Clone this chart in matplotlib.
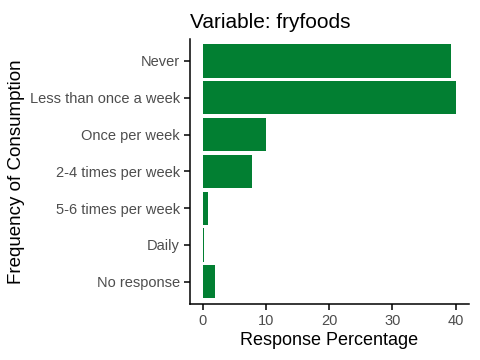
import numpy as np
import matplotlib.pyplot as plt

plt.rcParams['font.family'] = ['Liberation Sans', 'DejaVu Sans']

categories = ['Never', 'Less than once a week', 'Once per week', '2-4 times per week',
              '5-6 times per week', 'Daily', 'No response']
values = [39.3, 40.1, 10.0, 7.85, 0.8, 0.15, 1.9]

fig = plt.figure(figsize=(4.8, 3.6), dpi=100)
ax = fig.add_axes([0.396, 0.156, 0.581, 0.736])

pos = np.arange(len(categories))[::-1]
ax.barh(pos, values, height=0.9, color='#027f32', linewidth=0)

ax.set_yticks(pos)
ax.set_yticklabels(categories)
ax.set_ylim(-0.6, len(categories) - 0.4)
xmax = max(values)
ax.set_xlim(-0.05 * xmax, xmax * 1.05)
ax.set_xticks([0, 10, 20, 30, 40])

for s in ['top', 'right']:
    ax.spines[s].set_visible(False)
for s in ['left', 'bottom']:
    ax.spines[s].set_linewidth(1.1)
ax.tick_params(axis='both', labelsize=10.5, colors='#4d4d4d', length=4, width=1.1)
ax.tick_params(axis='both', color='black')

ax.set_xlabel('Response Percentage', fontsize=13, labelpad=3)
ax.set_ylabel('Frequency of Consumption', fontsize=13.5, labelpad=3)
ax.set_title('Variable: fryfoods', fontsize=15, loc='left', pad=8)

fig.savefig('out.png', dpi=100)
